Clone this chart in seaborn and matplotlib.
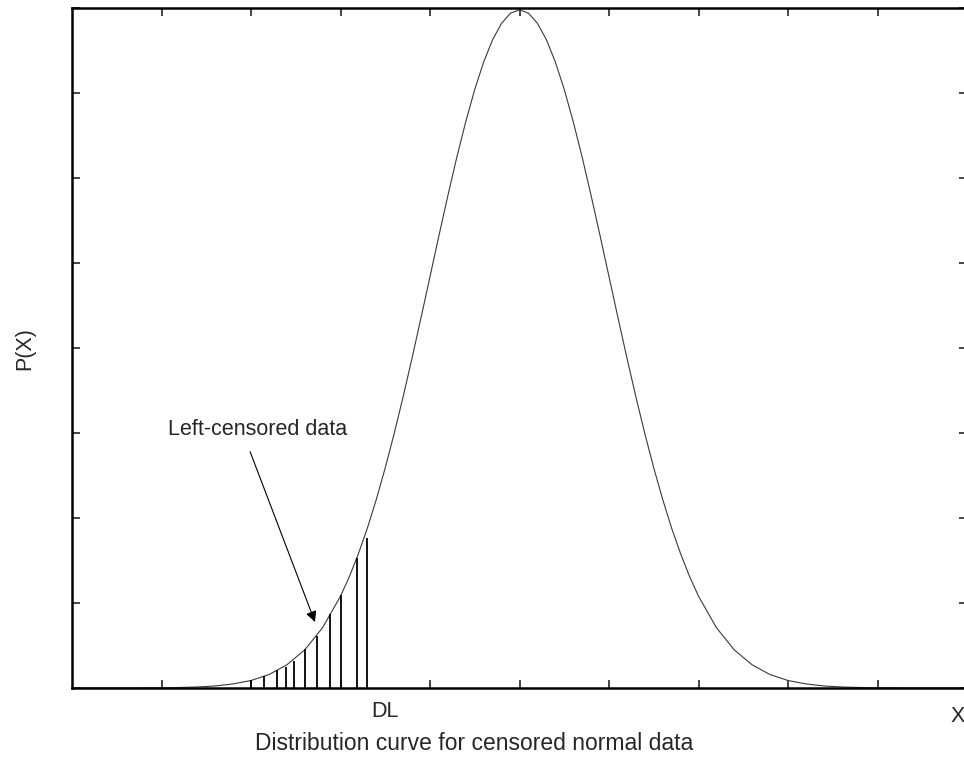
import pandas as pd
import matplotlib
matplotlib.use("Agg")
import matplotlib.pyplot as plt
import seaborn as sns

# curve (x in units of the tick spacing, peak ~0.399)
curve_x = [-5.0, -4.8, -4.6, -4.4, -4.2, -4.0, -3.8, -3.6, -3.4, -3.2, -3.0, -2.8, -2.6, -2.4, -2.2,
           -2.0, -1.9, -1.8, -1.7, -1.6, -1.5, -1.4, -1.3, -1.2, -1.1, -1.0, -0.9, -0.8, -0.7,
           -0.6, -0.5, -0.4, -0.3, -0.2, -0.1, 0.0, 0.1, 0.2, 0.3, 0.4, 0.5, 0.6, 0.7, 0.8, 0.9,
           1.0, 1.1, 1.2, 1.3, 1.4, 1.5, 1.6, 1.7, 1.8, 1.9, 2.0,
           2.2, 2.4, 2.6, 2.8, 3.0, 3.2, 3.4, 3.6, 3.8, 4.0, 4.2, 4.4, 4.6, 4.8, 5.0]
curve_y = [0.0, 0.0, 0.0, 0.0, 0.0001, 0.0001, 0.0003, 0.0006, 0.0012, 0.0024, 0.0044, 0.0079,
           0.0136, 0.0224, 0.0355,
           0.0540, 0.0656, 0.0790, 0.0940, 0.1109, 0.1295, 0.1497, 0.1714, 0.1942, 0.2179,
           0.2420, 0.2661, 0.2897, 0.3123, 0.3332, 0.3521, 0.3683, 0.3814, 0.3910, 0.3970,
           0.3989, 0.3970, 0.3910, 0.3814, 0.3683, 0.3521, 0.3332, 0.3123, 0.2897, 0.2661,
           0.2420, 0.2179, 0.1942, 0.1714, 0.1497, 0.1295, 0.1109, 0.0940, 0.0790, 0.0656, 0.0540,
           0.0355, 0.0224, 0.0136, 0.0079, 0.0044, 0.0024, 0.0012, 0.0006, 0.0003, 0.0001,
           0.0001, 0.0, 0.0, 0.0, 0.0]

# censored region hatching (vertical lines below DL)
cens_x = [-3.00, -2.85, -2.71, -2.61, -2.52, -2.40, -2.26, -2.12, -1.99, -1.82, -1.70]
cens_h = [0.0047, 0.0071, 0.0106, 0.0124, 0.0159, 0.0229, 0.0306, 0.0435, 0.0547, 0.0765, 0.0882]

xticks = [-4, -3, -2, -1, 0, 1, 2, 3, 4]
yticks = [0.0, 0.05, 0.10, 0.15, 0.20, 0.25, 0.30, 0.35, 0.40]

sns.set_style("ticks")
plt.rcParams['font.family'] = ['Liberation Sans', 'DejaVu Sans']

df = pd.DataFrame({'x': curve_x, 'p': curve_y})

fig = plt.figure(figsize=(9.64, 7.62), dpi=100)
ax = fig.add_axes([72 / 964, 74 / 762, 895 / 964, 680 / 762])

sns.lineplot(data=df, x='x', y='p', ax=ax, color='#3a3a3a', linewidth=0.8)
ax.vlines(cens_x, 0, cens_h, color='black', linewidth=1.3)

# arrow pointing at the censored tail
ax.annotate('', xy=(-2.285, 0.0388), xytext=(-3.01, 0.139),
            arrowprops=dict(arrowstyle='-|>', color='black', lw=0.8,
                            shrinkA=0, shrinkB=0, mutation_scale=16))
ax.text(-3.93, 0.152, 'Left-censored data', ha='left', va='center', fontsize=15.5)

ax.set_xlim(-5, 5)
ax.set_ylim(0, 0.4)
ax.set_xticks(xticks)
ax.set_yticks(yticks)
ax.tick_params(direction='in', length=6, width=1.2, top=True, right=True,
               labelbottom=False, labelleft=False)
for s in ax.spines.values():
    s.set_linewidth(1.8)
    s.set_color('black')
ax.set_xlabel('')
ax.set_ylabel('')

ax.text(-1.50, -0.034, 'DL', transform=ax.get_xaxis_transform(),
        ha='center', va='center', fontsize=15.5)
fig.text(958 / 964, 1 - 716 / 762, 'X', ha='center', va='center', fontsize=15.5)
fig.text(25 / 964, 1 - 349 / 762, 'P(X)', rotation=90, ha='center', va='center', fontsize=15.5)
fig.text(255 / 964, 1 - 744 / 762, 'Distribution curve for censored normal data',
         ha='left', va='center', fontsize=16.5)

fig.savefig('out.png', dpi=100)
